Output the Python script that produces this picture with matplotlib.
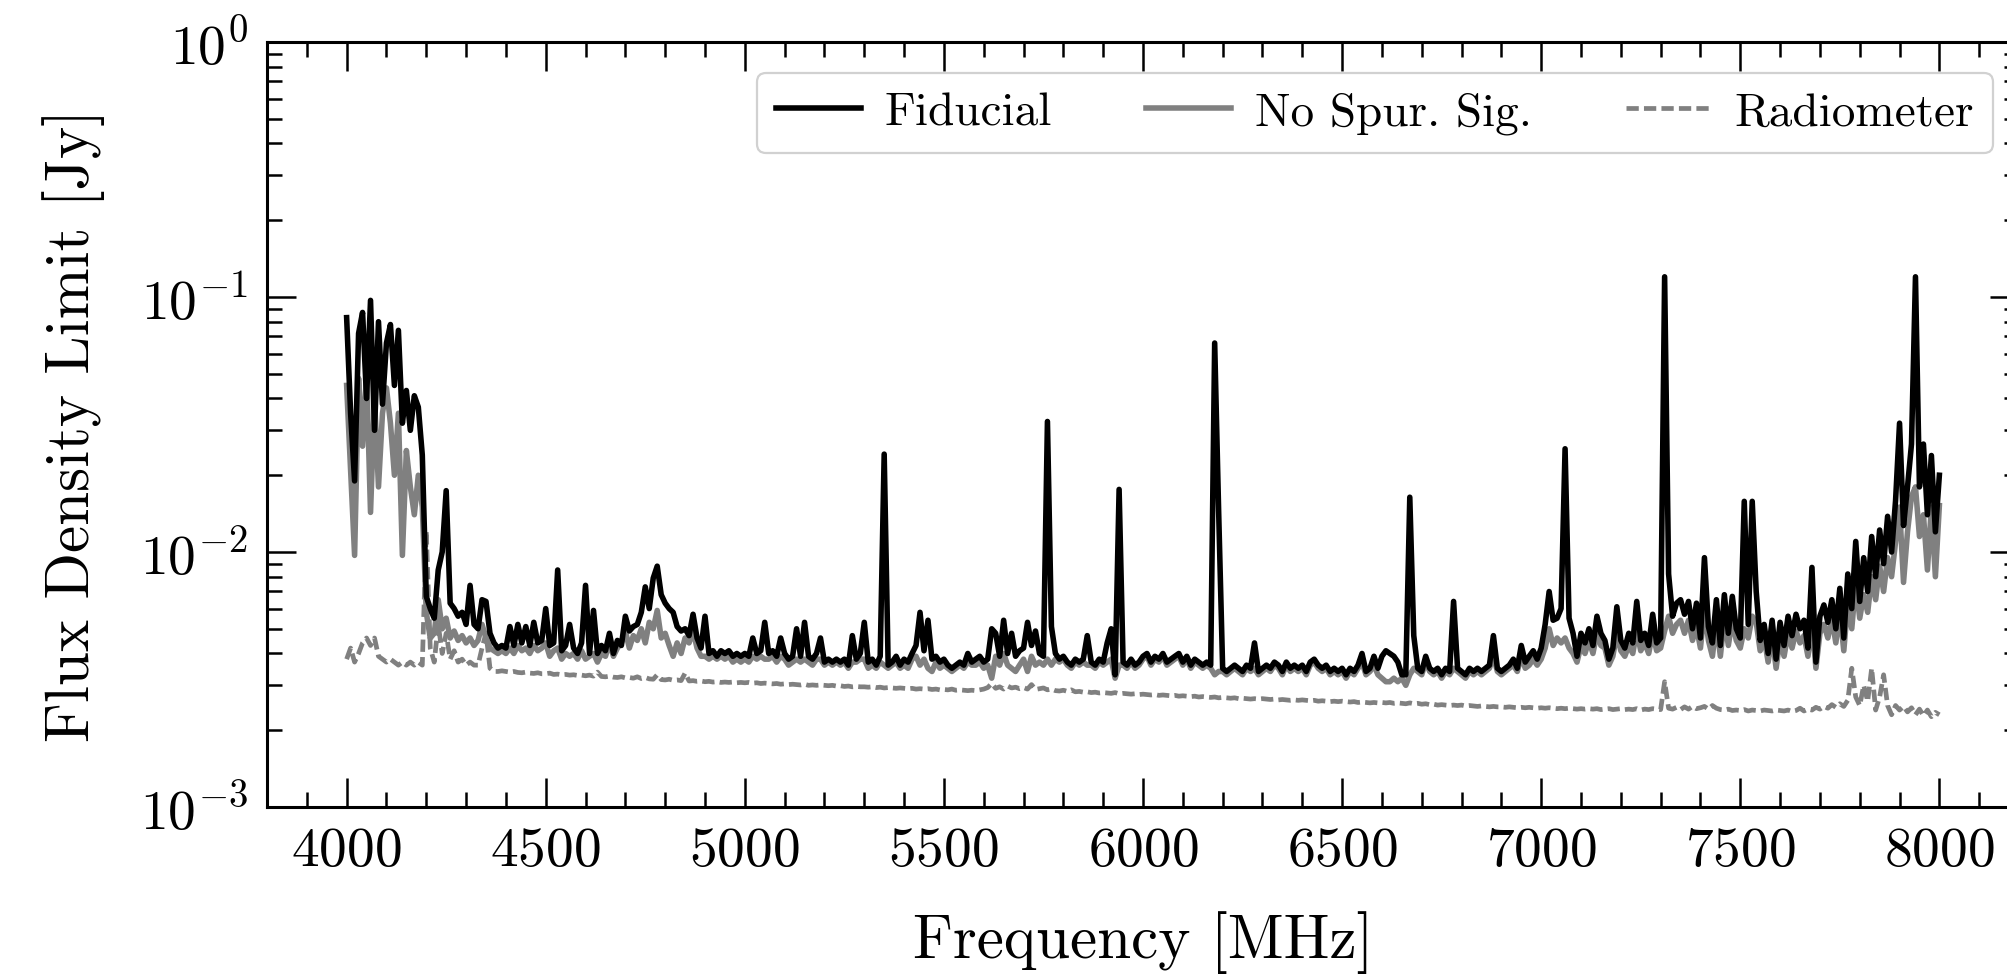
import numpy as np
import matplotlib
matplotlib.use("Agg")
import matplotlib.pyplot as plt
from matplotlib.ticker import MultipleLocator

# ---------------- data (values in mJy, 10 MHz grid 4000-8000 MHz) ----------------
freq_mhz = np.arange(4000, 8001, 10)

fiducial_mjy = [
    83, 35, 19, 72, 87, 40, 97, 30, 80, 38,
    66, 78, 45, 74, 32, 43, 30, 41, 37, 24,
    6.7, 6.0, 5.5, 8.5, 10.0, 17.4, 6.3, 6.0, 5.6, 5.8,
    5.2, 7.4, 5.2, 5.0, 6.5, 6.4, 4.8, 4.4, 4.2, 4.3,
    4.2, 5.1, 4.3, 5.2, 4.4, 5.1, 4.3, 5.3, 4.4, 4.5,
    6.0, 4.3, 4.4, 8.5, 4.1, 4.3, 5.2, 4.2, 4.0, 4.4,
    7.4, 4.0, 5.9, 4.0, 4.3, 4.1, 4.8, 4.0, 4.5, 4.3,
    5.6, 4.9, 5.1, 5.2, 5.8, 7.3, 6.0, 7.9, 8.8, 6.8,
    6.3, 6.0, 5.8, 5.1, 4.9, 5.0, 4.7, 5.7, 4.6, 4.2,
    5.6, 4.0, 4.1, 3.9, 4.1, 4.0, 4.1, 3.9, 4.0, 3.9,
    4.0, 3.9, 4.6, 4.0, 4.1, 5.3, 4.0, 4.1, 3.9, 4.6,
    4.0, 3.8, 3.9, 5.0, 3.9, 5.3, 3.9, 3.8, 4.0, 4.6,
    3.7, 3.8, 3.7, 3.8, 3.7, 3.8, 3.6, 4.7, 3.8, 4.0,
    5.3, 3.7, 3.8, 3.6, 3.9, 24.2, 3.6, 3.7, 3.9, 3.6,
    3.8, 3.7, 4.0, 4.3, 5.8, 4.1, 5.4, 3.8, 3.9, 3.7,
    3.8, 3.6, 3.5, 3.6, 3.7, 3.6, 4.0, 3.7, 3.8, 3.9,
    3.7, 3.8, 5.0, 4.8, 3.9, 5.4, 4.0, 4.8, 3.9, 4.1,
    4.2, 5.3, 4.3, 4.9, 4.0, 3.9, 32.5, 5.1, 4.0, 3.8,
    3.9, 3.7, 3.6, 3.8, 3.7, 3.8, 4.7, 3.7, 3.6, 3.8,
    3.7, 4.4, 5.0, 3.3, 17.6, 3.7, 3.6, 3.8, 3.6, 3.7,
    3.9, 4.0, 3.7, 3.9, 3.8, 4.0, 3.7, 3.8, 3.9, 4.0,
    3.7, 3.9, 3.6, 3.8, 3.7, 3.6, 3.7, 3.6, 66, 14.4,
    3.5, 3.4, 3.5, 3.6, 3.5, 3.4, 3.6, 3.5, 4.4, 3.4,
    3.5, 3.6, 3.5, 3.7, 3.6, 3.4, 3.7, 3.5, 3.6, 3.5,
    3.6, 3.4, 3.7, 3.8, 3.6, 3.5, 3.6, 3.4, 3.5, 3.4,
    3.5, 3.3, 3.5, 3.4, 3.6, 4.0, 3.4, 3.5, 3.9, 3.5,
    3.9, 4.1, 4.0, 3.9, 3.7, 3.3, 3.3, 16.4, 4.7, 3.5,
    3.4, 3.9, 3.5, 3.4, 3.5, 3.3, 3.5, 3.4, 6.4, 3.5,
    3.4, 3.3, 3.5, 3.4, 3.5, 3.4, 3.5, 3.6, 4.7, 3.5,
    3.4, 3.5, 3.6, 3.8, 3.5, 4.3, 3.7, 3.9, 4.1, 3.8,
    4.2, 5.2, 7.0, 5.4, 5.5, 6.0, 25.4, 5.5, 4.8, 3.9,
    4.8, 4.4, 5.0, 4.3, 5.6, 4.8, 4.5, 3.8, 4.2, 6.1,
    4.5, 4.2, 4.8, 4.4, 6.4, 4.5, 4.8, 4.3, 5.7, 4.4,
    4.6, 120, 8.2, 5.6, 6.3, 6.5, 5.7, 6.4, 5.0, 6.3,
    4.6, 9.5, 5.1, 4.4, 6.5, 4.3, 6.8, 4.8, 6.7, 5.0,
    4.6, 15.8, 5.2, 15.8, 7.0, 4.5, 5.2, 4.0, 5.4, 3.8,
    5.3, 4.3, 5.6, 4.7, 5.7, 5.0, 5.4, 4.2, 8.7, 3.7,
    5.6, 6.2, 5.3, 6.5, 5.0, 7.2, 4.6, 8.2, 6.0, 11.0,
    6.4, 9.5, 7.0, 11.5, 8.0, 12.2, 9.0, 13.8, 10.0, 15.9,
    32.0, 12.7, 18.0, 26.5, 120, 18.0, 26.5, 14.0, 23.9, 12.0,
    20.0,
]

no_spur_mjy = [
    45, 21, 9.7, 48, 26, 50, 14.3, 40, 18, 35,
    44, 32, 20, 35, 9.7, 25, 18, 14, 20, 15,
    5.8, 4.6, 4.8, 6.5, 5.0, 5.5, 4.6, 4.9, 4.5, 4.7,
    4.4, 4.6, 4.3, 4.5, 5.2, 4.6, 4.2, 4.1, 4.0, 4.1,
    4.0, 4.2, 4.0, 4.3, 4.1, 4.2, 4.0, 4.3, 4.1, 4.2,
    4.4, 3.9, 4.1, 4.2, 3.8, 4.0, 3.9, 4.0, 3.8, 4.1,
    3.8, 3.9, 4.0, 3.7, 4.0, 3.9, 4.4, 3.9, 4.2, 4.4,
    4.9, 4.2, 4.7, 4.5, 5.0, 4.4, 5.3, 5.0, 5.9, 4.6,
    4.8, 4.3, 3.9, 4.4, 4.0, 4.6, 4.4, 4.9, 4.2, 3.9,
    3.9, 3.8, 3.9, 3.8, 3.9, 3.8, 3.9, 3.7, 3.8, 3.7,
    3.8, 3.7, 3.9, 3.8, 3.9, 3.8, 3.8, 3.9, 3.7, 3.9,
    3.8, 3.6, 3.7, 3.8, 3.7, 3.8, 3.7, 3.6, 3.8, 3.8,
    3.6, 3.7, 3.6, 3.7, 3.6, 3.7, 3.5, 3.7, 3.7, 3.8,
    3.8, 3.5, 3.6, 3.5, 3.7, 3.6, 3.5, 3.6, 3.7, 3.5,
    3.6, 3.5, 3.8, 3.9, 3.6, 3.8, 3.5, 3.4, 3.7, 3.5,
    3.6, 3.5, 3.4, 3.5, 3.6, 3.5, 3.7, 3.6, 3.6, 3.7,
    3.5, 3.6, 3.2, 3.9, 3.6, 4.0, 3.6, 3.5, 3.4, 3.6,
    3.8, 3.4, 3.9, 3.6, 3.7, 3.6, 3.8, 3.6, 3.8, 3.7,
    3.8, 3.6, 3.5, 3.7, 3.6, 3.7, 3.6, 3.6, 3.5, 3.7,
    3.6, 3.7, 3.8, 3.2, 3.6, 3.6, 3.5, 3.7, 3.5, 3.6,
    3.8, 3.9, 3.6, 3.8, 3.7, 3.9, 3.6, 3.7, 3.8, 3.9,
    3.6, 3.8, 3.5, 3.7, 3.6, 3.5, 3.6, 3.5, 3.3, 3.4,
    3.4, 3.3, 3.4, 3.5, 3.4, 3.3, 3.5, 3.4, 3.5, 3.3,
    3.4, 3.5, 3.4, 3.6, 3.5, 3.3, 3.6, 3.4, 3.5, 3.4,
    3.5, 3.3, 3.6, 3.7, 3.5, 3.4, 3.5, 3.3, 3.4, 3.3,
    3.4, 3.2, 3.4, 3.3, 3.5, 3.7, 3.3, 3.4, 3.6, 3.3,
    3.2, 3.1, 3.1, 3.2, 3.1, 3.2, 3.0, 3.3, 3.5, 3.4,
    3.3, 3.7, 3.4, 3.3, 3.4, 3.2, 3.4, 3.3, 3.5, 3.4,
    3.3, 3.2, 3.4, 3.3, 3.4, 3.3, 3.4, 3.5, 3.9, 3.4,
    3.3, 3.4, 3.5, 3.6, 3.4, 3.9, 3.5, 3.6, 3.8, 3.6,
    3.8, 4.2, 5.0, 4.3, 4.6, 4.4, 4.6, 4.2, 4.0, 3.7,
    4.3, 4.0, 4.5, 4.0, 4.8, 4.3, 4.2, 3.6, 3.9, 4.8,
    4.1, 3.9, 4.3, 4.0, 4.9, 4.1, 4.4, 4.0, 4.8, 4.1,
    4.2, 4.9, 5.6, 4.8, 5.2, 5.4, 4.8, 5.4, 4.5, 5.1,
    4.2, 6.0, 4.5, 3.9, 5.3, 3.9, 5.5, 4.3, 5.4, 4.5,
    4.2, 5.0, 4.6, 5.6, 5.3, 4.1, 4.6, 3.7, 4.7, 3.5,
    4.6, 3.9, 4.8, 4.2, 4.9, 4.4, 4.7, 3.9, 5.3, 3.5,
    4.8, 5.2, 4.6, 5.5, 4.4, 5.8, 4.1, 6.3, 5.0, 7.6,
    5.5, 6.8, 5.8, 8.0, 6.5, 8.8, 7.0, 9.5, 8.0, 11.0,
    15.0, 7.6, 12.0, 16.5, 18.0, 11.5, 14.0, 8.5, 15.0, 8.0,
    15.2,
]

radiometer_mjy = [
    3.8, 4.2, 3.7, 4.0, 4.4, 4.6, 4.3, 4.6, 3.9, 3.8,
    3.7, 3.8, 3.7, 3.6, 3.7, 3.6, 3.7, 3.6, 3.7, 3.6,
    12.1, 4.2, 3.7, 5.2, 4.0, 4.8, 3.8, 4.1, 3.7, 3.8,
    3.6, 3.7, 3.6, 3.6, 4.2, 4.8, 3.5, 3.4, 3.4, 3.42,
    3.40, 3.38, 3.40, 3.37, 3.36, 3.38, 3.35, 3.34, 3.36, 3.33,
    3.33, 3.35, 3.31, 3.32, 3.30, 3.31, 3.29, 3.30, 3.28, 3.29,
    3.27, 3.29, 3.26, 3.38, 3.25, 3.24, 3.26, 3.23, 3.22, 3.24,
    3.21, 3.22, 3.20, 3.24, 3.19, 3.22, 3.18, 3.17, 3.30, 3.16,
    3.15, 3.17, 3.14, 3.15, 3.13, 3.35, 3.12, 3.13, 3.11, 3.12,
    3.10, 3.11, 3.09, 3.10, 3.08, 3.09, 3.08, 3.09, 3.07, 3.08,
    3.07, 3.08, 3.06, 3.07, 3.05, 3.06, 3.05, 3.04, 3.05, 3.03,
    3.04, 3.02, 3.03, 3.02, 3.01, 3.03, 3.00, 3.01, 3.00, 3.01,
    3.00, 2.99, 3.00, 2.98, 2.99, 2.97, 2.98, 2.96, 2.97, 2.96,
    2.96, 2.95, 2.96, 2.94, 2.95, 2.93, 2.94, 2.93, 2.92, 2.93,
    2.92, 2.91, 2.92, 2.90, 2.91, 2.90, 2.91, 2.89, 2.90, 2.88,
    2.89, 2.88, 2.90, 2.87, 2.88, 2.87, 2.86, 2.87, 2.86, 2.88,
    2.90, 2.94, 3.05, 2.92, 2.96, 2.90, 2.98, 2.93, 2.95, 2.91,
    2.94, 2.90, 3.02, 2.89, 2.91, 2.93, 2.88, 2.90, 2.86, 2.85,
    2.87, 2.84, 2.88, 2.83, 2.84, 2.82, 2.83, 2.81, 2.82, 2.80,
    2.81, 2.80, 2.79, 2.81, 2.78, 2.79, 2.78, 2.77, 2.78, 2.76,
    2.77, 2.76, 2.75, 2.76, 2.74, 2.75, 2.74, 2.73, 2.74, 2.72,
    2.73, 2.72, 2.71, 2.72, 2.70, 2.71, 2.70, 2.69, 2.70, 2.68,
    2.69, 2.68, 2.67, 2.68, 2.66, 2.67, 2.66, 2.65, 2.66, 2.65,
    2.66, 2.65, 2.64, 2.65, 2.63, 2.64, 2.63, 2.62, 2.63, 2.62,
    2.63, 2.62, 2.61, 2.62, 2.60, 2.61, 2.60, 2.59, 2.60, 2.59,
    2.60, 2.59, 2.58, 2.59, 2.57, 2.58, 2.57, 2.56, 2.57, 2.56,
    2.57, 2.56, 2.57, 2.55, 2.56, 2.55, 2.54, 2.56, 2.54, 2.55,
    2.53, 2.54, 2.52, 2.53, 2.51, 2.52, 2.51, 2.50, 2.51, 2.50,
    2.51, 2.49, 2.50, 2.49, 2.48, 2.49, 2.48, 2.47, 2.48, 2.47,
    2.47, 2.46, 2.47, 2.46, 2.45, 2.46, 2.45, 2.46, 2.45, 2.44,
    2.45, 2.44, 2.45, 2.44, 2.43, 2.44, 2.43, 2.44, 2.43, 2.42,
    2.43, 2.42, 2.43, 2.42, 2.43, 2.41, 2.42, 2.43, 2.41, 2.42,
    2.43, 2.41, 2.42, 2.41, 2.43, 2.40, 2.42, 2.41, 2.43, 2.42,
    2.41, 3.10, 2.44, 2.42, 2.46, 2.41, 2.47, 2.42, 2.48, 2.43,
    2.45, 2.48, 2.42, 2.50, 2.44, 2.41, 2.40, 2.42, 2.39, 2.40,
    2.39, 2.41, 2.38, 2.40, 2.39, 2.38, 2.40, 2.39, 2.38, 2.40,
    2.39, 2.38, 2.40, 2.37, 2.39, 2.44, 2.38, 2.42, 2.40, 2.46,
    2.42, 2.48, 2.44, 2.52, 2.46, 2.54, 2.48, 2.62, 3.50, 2.70,
    2.50, 3.00, 2.60, 3.50, 2.40, 2.70, 3.30, 2.50, 2.30, 2.50,
    2.40, 2.48, 2.36, 2.45, 2.30, 2.42, 2.28, 2.40, 2.26, 2.35,
    2.30,
]

series_labels = ["Fiducial", "No Spur. Sig.", "Radiometer"]
x_label = "Frequency [MHz]"
y_label = "Flux Density Limit [Jy]"

# ---------------- style ----------------
plt.rcParams.update({
    "font.family": "serif",
    "font.serif": ["cmr10"],
    "mathtext.fontset": "cm",
    "axes.formatter.use_mathtext": True,
})

W, H = 2008, 979
fig = plt.figure(figsize=(W / 100, H / 100), dpi=100)
left_px, right_px, top_px, bottom_px = 267, 2019, 43, 808
ax = fig.add_axes([left_px / W, 1 - bottom_px / H,
                   (right_px - left_px) / W, (bottom_px - top_px) / H])

fid = np.asarray(fiducial_mjy) / 1000.0
nsp = np.asarray(no_spur_mjy) / 1000.0
rad = np.asarray(radiometer_mjy) / 1000.0

l_rad, = ax.plot(freq_mhz, rad, color="#808080", lw=3.4,
                 ls=(0, (2.6, 1.1)), zorder=1)
l_nsp, = ax.plot(freq_mhz, nsp, color="#808080", lw=4.0, zorder=2)
l_fid, = ax.plot(freq_mhz, fid, color="black", lw=4.0, zorder=3)

ax.set_yscale("log")
ax.set_ylim(1e-3, 1)
ax.set_xlim(3800, 8200)
ax.xaxis.set_major_locator(MultipleLocator(500))
ax.xaxis.set_minor_locator(MultipleLocator(100))

ax.tick_params(which="both", direction="in", top=True, right=True,
               width=1.8, labelsize=40, pad=14)
ax.tick_params(which="major", length=21)
ax.tick_params(which="minor", length=11)
for sp in ax.spines.values():
    sp.set_linewidth(2.2)

ax.set_xlabel(x_label, fontsize=44)
ax.set_ylabel(y_label, fontsize=44)
ax.xaxis.set_label_coords(0.5, -0.135)
ax.yaxis.set_label_coords(-0.0925, 0.5)

leg = ax.legend([l_fid, l_nsp, l_rad], series_labels, ncol=3, fontsize=34,
                loc="upper right", bbox_to_anchor=(0.9852, 0.9595),
                borderaxespad=0, frameon=True, fancybox=True,
                edgecolor="0.82", framealpha=1.0,
                handlelength=1.8, handletextpad=0.5, columnspacing=2.0)
leg.get_frame().set_linewidth(1.6)

fig.savefig("out.png", dpi=100)
